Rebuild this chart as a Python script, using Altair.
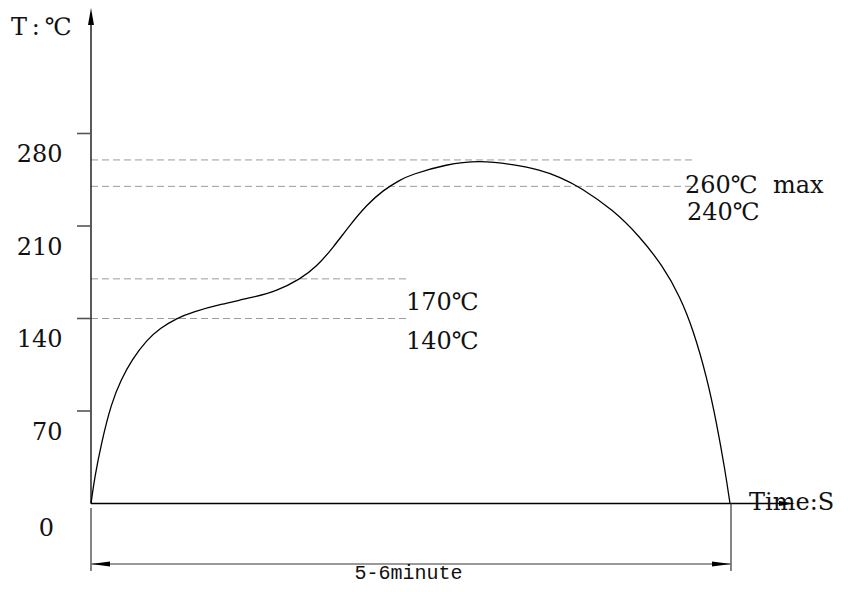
import altair as alt
import pandas as pd

# ---- data ----
time_s = [0, 1.85, 5.15, 10.15, 15.15, 20.35, 27.85, 34.5, 42.85, 51.15, 64.5, 81.15,
          92.85, 104.5, 112.85, 121.15, 129.5, 137.85, 146.15, 154.5, 159.5, 177.85,
          194.5, 211.15, 224.5, 234.5, 244.5, 261.15, 274.5, 286.15, 294.5, 301.15,
          307.85, 312.85, 317, 319.5]
temp_c = [0, 20, 45.5, 76, 94, 108.6, 123.7, 132.6, 140.2, 145.1, 150.7, 156.0,
          160.8, 169.7, 179.2, 193.9, 210.8, 225.9, 237.2, 244.8, 248.6, 256.9,
          259.6, 256.6, 252.5, 247.0, 239.5, 222.1, 201.9, 179.2, 156.5, 131.3,
          96, 60.7, 25.4, 0]

tick_temps = [70, 140, 210, 280]
tick_labels = ["70", "140", "210", "280"]

ref_temps = [260, 240, 170, 140]
ref_end = [300.5, 300.5, 157.5, 157.5]
ref_texts = ["260℃\u00a0\u00a0max", "240℃", "170℃", "140℃"]
ref_text_t = [297, 298, 157.5, 157.5]
ref_text_T = [240.3, 219.8, 151.7, 122.2]

profile_end = 320      # end of the profile (t axis units)
axis_top = 367.4
axis_right = 348
dim_T = -45.8
dim_low = -51.1

W, H = 832, 576
xs = alt.Scale(domain=[-41.5, 374.5], nice=False, zero=False)
ys = alt.Scale(domain=[-60.92, 374.97], nice=False, zero=False)
SERIF = "DejaVu Serif, Noto Sans CJK SC"


def X(f):
    return alt.X(f, type="quantitative", scale=xs, axis=None)


def X2(f):
    return alt.X2(f)


def Y(f):
    return alt.Y(f, type="quantitative", scale=ys, axis=None)


def Y2(f):
    return alt.Y2(f)


curve = alt.Chart(pd.DataFrame({"t": time_s, "T": temp_c})).mark_line(
    color="black", strokeWidth=1.3, interpolate="basis"
).encode(x=X("t"), y=Y("T"), order="t:Q")

dashed = alt.Chart(pd.DataFrame({"T": ref_temps, "x0": [0] * 4, "x1": ref_end})).mark_rule(
    color="#9a9a9a", strokeWidth=1, strokeDash=[7, 4]
).encode(x=X("x0"), x2=X2("x1"), y=Y("T"))

yaxis = alt.Chart(pd.DataFrame({"t": [0], "a": [0], "b": [axis_top]})).mark_rule(
    color="black", strokeWidth=1.3
).encode(x=X("t"), y=Y("a"), y2=Y2("b"))

xaxis = alt.Chart(pd.DataFrame({"T": [0], "a": [0], "b": [axis_right]})).mark_rule(
    color="black", strokeWidth=1.5
).encode(x=X("a"), x2=X2("b"), y=Y("T"))

ticks = alt.Chart(pd.DataFrame({"T": tick_temps, "a": [-7] * 4, "b": [0] * 4})).mark_rule(
    color="#555", strokeWidth=1.6
).encode(x=X("a"), x2=X2("b"), y=Y("T"))

tick_text = alt.Chart(pd.DataFrame({"T": tick_temps, "lab": tick_labels, "t": [-14.25] * 4})).mark_text(
    font=SERIF, fontSize=24, align="right", baseline="middle", dy=22, color="#111"
).encode(x=X("t"), y=Y("T"), text="lab:N")

zero_text = alt.Chart(pd.DataFrame({"T": [0], "lab": ["0"], "t": [-22.25]})).mark_text(
    font=SERIF, fontSize=24, align="center", baseline="middle", dy=26, color="#111"
).encode(x=X("t"), y=Y("T"), text="lab:N")

ref_text = alt.Chart(pd.DataFrame({"t": ref_text_t, "T": ref_text_T, "lab": ref_texts})).mark_text(
    font=SERIF, fontSize=24, align="left", baseline="middle", color="#111"
).encode(x=X("t"), y=Y("T"), text="lab:N")

title_text = alt.Chart(pd.DataFrame({"t": [-40, 329], "T": [360, 0],
                                     "lab": ["T\u2009:\u2009℃", "Time:S"]})).mark_text(
    font=SERIF, fontSize=24, align="left", baseline="middle", color="#111"
).encode(x=X("t"), y=Y("T"), text="lab:N")

up_arrow = alt.Chart(pd.DataFrame({"t": [0], "T": [368.5]})).mark_point(
    shape="M0,-1L0.35,1L-0.35,1Z", size=289, filled=True, color="black", opacity=1
).encode(x=X("t"), y=Y("T"))

right_arrow = alt.Chart(pd.DataFrame({"t": [348], "T": [0]})).mark_point(
    shape="M1,0L-1,0.31L-1,-0.31Z", size=256, filled=True, color="black", opacity=1
).encode(x=X("t"), y=Y("T"))

dim_vert = alt.Chart(pd.DataFrame({"t": [0, profile_end], "a": [-3.4, 0], "b": [dim_low, dim_low]})).mark_rule(
    color="#444", strokeWidth=1.3
).encode(x=X("t"), y=Y("a"), y2=Y2("b"))

dim_line = alt.Chart(pd.DataFrame({"T": [dim_T], "a": [0], "b": [profile_end]})).mark_rule(
    color="#777", strokeWidth=1.5
).encode(x=X("a"), x2=X2("b"), y=Y("T"))

dim_left = alt.Chart(pd.DataFrame({"t": [4.75], "T": [dim_T]})).mark_point(
    shape="M-1,0L1,0.26L1,-0.26Z", size=361, filled=True, color="black", opacity=1
).encode(x=X("t"), y=Y("T"))

dim_right = alt.Chart(pd.DataFrame({"t": [315.25], "T": [dim_T]})).mark_point(
    shape="M1,0L-1,0.26L-1,-0.26Z", size=361, filled=True, color="black", opacity=1
).encode(x=X("t"), y=Y("T"))

dim_text = alt.Chart(pd.DataFrame({"t": [158.75], "T": [-57.1], "lab": ["5-6minute"]})).mark_text(
    font="Liberation Mono", fontSize=20, align="center", baseline="alphabetic", color="#111"
).encode(x=X("t"), y=Y("T"), text="lab:N")

chart = alt.layer(
    dashed, curve, yaxis, xaxis, ticks, tick_text, zero_text, ref_text, title_text,
    up_arrow, right_arrow, dim_vert, dim_line, dim_left, dim_right, dim_text
).properties(
    width=W, height=H, padding=0, autosize=alt.AutoSizeParams(type="none")
).configure(background="white").configure_view(stroke=None)

chart.save("out.html", embed_options={"renderer": "svg", "actions": False})
